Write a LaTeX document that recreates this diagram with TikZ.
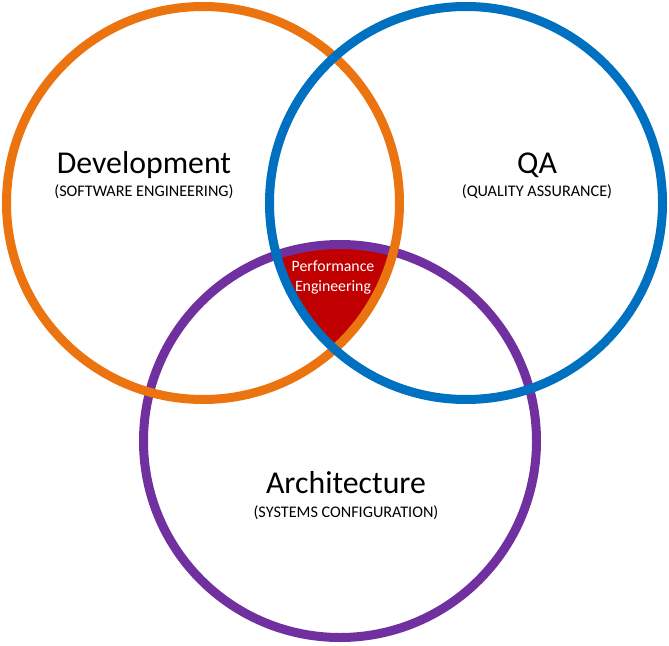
\documentclass[tikz,border=0pt]{standalone}
\usepackage{fontspec}
\setmainfont{Carlito}
\definecolor{devorange}{RGB}{236,116,16}
\definecolor{qablue}{RGB}{0,112,192}
\definecolor{archpurple}{RGB}{112,48,160}
\definecolor{perfred}{RGB}{192,0,0}
\tikzset{
	ring/.style={line width=9pt},
	areatitle/.style={anchor=base, font=\fontsize{31.8}{36}\selectfont},
	areasub/.style={anchor=base, font=\fontsize{16.2}{19}\selectfont},
	perftext/.style={anchor=base, text=white, font=\fontsize{15.8}{18}\selectfont}
}
\begin{document}
\begin{tikzpicture}[x=1pt,y=-1pt]
	\useasboundingbox (0,0) rectangle (669,645);
	\coordinate (dev) at (203,203);
	\coordinate (qa) at (466,203);
	\coordinate (arch) at (340,441);
	% overlap of all three
	\begin{scope}
		\clip (dev) circle (196.5pt);
		\clip (qa) circle (196.5pt);
		\fill[perfred] (arch) circle (196.5pt);
	\end{scope}
	\draw[ring, archpurple] (arch) circle (196.5pt);
	\draw[ring, devorange] (dev) circle (196.5pt);
	\draw[ring, qablue] (qa) circle (196.5pt);
	\node[areatitle] (devtitle) at (144,173) {Development};
	\node[areasub] (devsub) at (144,196) {(SOFTWARE ENGINEERING)};
	\node[areatitle] (qatitle) at (537,173) {QA};
	\node[areasub] (qasub) at (537,196) {(QUALITY ASSURANCE)};
	\node[areatitle] (archtitle) at (346,493) {Architecture};
	\node[areasub] (archsub) at (346,517) {(SYSTEMS CONFIGURATION)};
	\node[perftext] (perf1) at (333,271) {Performance};
	\node[perftext] (perf2) at (333,291.5) {Engineering};
\end{tikzpicture}
\end{document}
